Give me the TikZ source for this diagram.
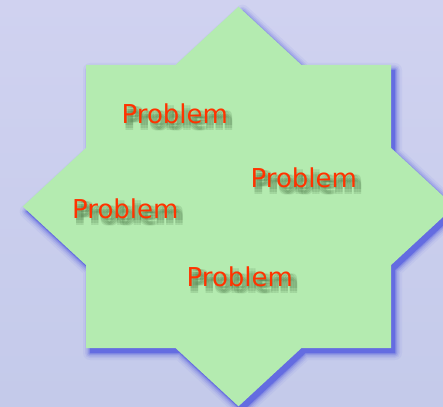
\documentclass[tikz,border=0pt]{standalone}
\usepackage{fontspec}
\setmainfont{DejaVu Sans}
\definecolor{bgtop}{RGB}{208,210,240}
\definecolor{bgbot}{RGB}{196,202,234}
\definecolor{stargreen}{RGB}{180,235,176}
\definecolor{shadowblue}{RGB}{100,108,225}
\definecolor{txtred}{RGB}{255,51,0}
\definecolor{txtshadow}{RGB}{40,80,35}
\tikzset{
  starpath/.style={insert path={(238.5,6.7) -- (301.5,65) -- (391,65) -- (391,147.9) -- (454.3,206.5) -- (391,265.1) -- (391,348) -- (301.5,348) -- (238.5,406.3) -- (175.5,348) -- (86,348) -- (86,265.1) -- (22.7,206.5) -- (86,147.9) -- (86,65) -- (175.5,65) -- cycle}},
  probtext/.style={font=\fontsize{26}{30}\selectfont, inner sep=0pt, anchor=base west, text=txtred},
  probshadow/.style={font=\fontsize{26}{30}\selectfont, inner sep=0pt, anchor=base west, text=txtshadow, text opacity=0.13}
}
\begin{document}
\begin{tikzpicture}[x=1pt,y=-1pt]
\useasboundingbox (0,0) rectangle (443,406);
\shade[top color=bgtop,bottom color=bgbot] (0,0) rectangle (443,406);
% star shadow
\foreach \w/\o in {14/0.08, 10/0.12, 7/0.18, 4/0.25, 2/0.35}{
  \draw[shadowblue, line width=\w pt, line join=round, draw opacity=\o, shift={(4,5)}, starpath];
}
\fill[shadowblue, shift={(4,5)}, starpath];
% star
\fill[stargreen, starpath];
% text shadows (soft blur)
\foreach \px/\py/\n in {121.5/123.3/a, 250.5/187.3/b, 72/218.3/c, 186.5/286/d}{
  \foreach \dx/\i in {1.5/1,4/2,6.5/3}{
    \foreach \dy/\j in {2.5/1,5/2,7.5/3}{
      \node[probshadow] (s\n\i\j) at (\px+\dx,\py+\dy) {Problem};
    }
  }
}
% texts
\node[probtext] (p1) at (121.5,123.3) {Problem};
\node[probtext] (p2) at (250.5,187.3) {Problem};
\node[probtext] (p3) at (72,218.3) {Problem};
\node[probtext] (p4) at (186.5,286) {Problem};
\end{tikzpicture}
\end{document}
